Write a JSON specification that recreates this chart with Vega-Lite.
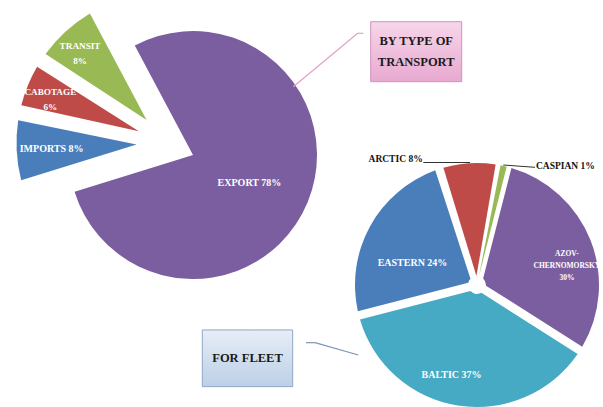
{
  "$schema": "https://vega.github.io/schema/vega-lite/v6.json",
  "width": 603,
  "height": 407,
  "padding": 0,
  "autosize": {"type": "fit", "contains": "padding"},
  "background": "white",
  "config": {"view": {"stroke": null}},
  "datasets": {
    "slices": [
      {"chart": "By type of transport", "category": "Export", "value": 78, "label": "EXPORT 78%"},
      {"chart": "By type of transport", "category": "Imports", "value": 8, "label": "IMPORTS 8%"},
      {"chart": "By type of transport", "category": "Cabotage", "value": 6, "label": "CABOTAGE\n6%"},
      {"chart": "By type of transport", "category": "Transit", "value": 8, "label": "TRANSIT\n8%"},
      {"chart": "For fleet", "category": "Arctic", "value": 8, "label": "ARCTIC 8%"},
      {"chart": "For fleet", "category": "Caspian", "value": 1, "label": "CASPIAN 1%"},
      {"chart": "For fleet", "category": "Azov-Chernomorsky", "value": 30, "label": "AZOV-\nCHERNOMORSKY\n30%"},
      {"chart": "For fleet", "category": "Baltic", "value": 37, "label": "BALTIC 37%"},
      {"chart": "For fleet", "category": "Eastern", "value": 24, "label": "EASTERN 24%"}
    ],
    "boxes": [
      {"chart": "By type of transport", "title": "BY TYPE OF\nTRANSPORT"},
      {"chart": "For fleet", "title": "FOR FLEET"}
    ],
    "links": [
      {"link": "transport", "node": "box"},
      {"link": "transport", "node": "elbow"},
      {"link": "transport", "node": "pie"},
      {"link": "fleet", "node": "box"},
      {"link": "fleet", "node": "elbow"},
      {"link": "fleet", "node": "pie"},
      {"link": "Arctic", "node": "label"},
      {"link": "Arctic", "node": "slice"},
      {"link": "Caspian", "node": "label"},
      {"link": "Caspian", "node": "slice"}
    ]
  },
  "resolve": {"scale": {"x": "independent", "y": "independent", "theta": "independent"}},
  "layer": [
    {
      "data": {"name": "slices"},
      "transform": [{"filter": "datum.category === 'Export'"}],
      "encoding": {
        "x": {"field": "chart", "type": "nominal", "axis": null, "scale": {"type": "point", "domain": ["By type of transport"], "range": [193, 193], "padding": 0}},
        "y": {"field": "chart", "type": "nominal", "axis": null, "scale": {"type": "point", "domain": ["By type of transport"], "range": [155, 155], "padding": 0}},
        "theta": {"field": "value", "type": "quantitative", "stack": true, "scale": {"domain": [0, 100], "range": [-0.4887, 5.7945]}},
        "color": {"field": "category", "type": "nominal", "legend": null,
          "scale": {"domain": ["Export", "Imports", "Cabotage", "Transit", "Arctic", "Caspian", "Azov-Chernomorsky", "Baltic", "Eastern"],
                    "range": ["#7B5E9F", "#4A7EBB", "#BE4B48", "#98B954", "#BE4B48", "#98B954", "#7B5E9F", "#46AAC5", "#4A7EBB"]}}
      },
      "layer": [
        {"mark": {"type": "arc", "outerRadius": 124}},
        {"mark": {"type": "text", "radius": 63, "thetaOffset": 0.07, "font": "Liberation Serif", "fontWeight": "bold", "fontSize": 10},
         "encoding": {"text": {"field": "label"}, "color": {"value": "white"}}}
      ]
    },
    {
      "data": {"name": "slices"},
      "transform": [
        {"filter": "datum.chart === 'By type of transport' && datum.category !== 'Export'"},
        {"window": [{"op": "row_number", "as": "idx"}]}
      ],
      "encoding": {
        "x": {"field": "chart", "type": "nominal", "axis": null, "scale": {"type": "point", "domain": ["By type of transport"], "range": [167.5, 167.5], "padding": 0}},
        "y": {"field": "chart", "type": "nominal", "axis": null, "scale": {"type": "point", "domain": ["By type of transport"], "range": [143, 143], "padding": 0}},
        "theta": {"field": "value", "type": "quantitative", "stack": true, "scale": {"domain": [0, 22], "range": [4.4122, 5.7945]}},
        "order": {"field": "idx", "type": "quantitative"},
        "color": {"field": "category", "type": "nominal", "legend": null}
      },
      "layer": [
        {"mark": {"type": "arc", "innerRadius": 31, "outerRadius": 151, "padAngle": 0.1}},
        {"mark": {"type": "text", "radius": 116, "font": "Liberation Serif", "fontWeight": "bold", "fontSize": 10},
         "encoding": {"text": {"condition": {"test": "datum.category !== 'Imports'", "value": ""}, "field": "label"}, "color": {"value": "white"}}},
        {"mark": {"type": "text", "radius": 125, "thetaOffset": -0.035, "dy": -7.5, "font": "Liberation Serif", "fontWeight": "bold", "fontSize": 9.2, "lineBreak": "\n", "lineHeight": 15},
         "encoding": {"text": {"condition": {"test": "datum.category === 'Imports'", "value": ""}, "field": "label"}, "color": {"value": "white"}}}
      ]
    },
    {
      "data": {"name": "slices"},
      "transform": [
        {"filter": "datum.chart === 'For fleet'"},
        {"window": [{"op": "row_number", "as": "idx"}]}
      ],
      "encoding": {
        "x": {"field": "chart", "type": "nominal", "axis": null, "scale": {"type": "point", "domain": ["For fleet"], "range": [477, 477], "padding": 0}},
        "y": {"field": "chart", "type": "nominal", "axis": null, "scale": {"type": "point", "domain": ["For fleet"], "range": [285, 285], "padding": 0}},
        "theta": {"field": "value", "type": "quantitative", "stack": true, "scale": {"domain": [0, 100], "range": [-0.31416, 5.96903]}},
        "order": {"field": "idx", "type": "quantitative"},
        "color": {"field": "category", "type": "nominal", "legend": null}
      },
      "layer": [
        {"mark": {"type": "arc", "innerRadius": 9, "outerRadius": 122, "padAngle": 0.07},
         "encoding": {"fillOpacity": {"condition": {"test": "datum.category === 'Caspian'", "value": 0}, "value": 1}}},
        {"mark": {"type": "arc", "innerRadius": 9, "outerRadius": 122, "padAngle": 0.012},
         "encoding": {"fillOpacity": {"condition": {"test": "datum.category === 'Caspian'", "value": 1}, "value": 0}}},
        {"mark": {"type": "text", "radius": 68, "thetaOffset": -0.18, "font": "Liberation Serif", "fontWeight": "bold", "fontSize": 10},
         "encoding": {"text": {"condition": {"test": "datum.category !== 'Eastern'", "value": ""}, "field": "label"}, "color": {"value": "white"}}},
        {"mark": {"type": "text", "radius": 92, "thetaOffset": 0.164, "dy": -12, "font": "Liberation Serif", "fontWeight": "bold", "fontSize": 7.5, "lineBreak": "\n", "lineHeight": 12},
         "encoding": {"text": {"condition": {"test": "datum.category !== 'Azov-Chernomorsky'", "value": ""}, "field": "label"}, "color": {"value": "white"}}},
        {"mark": {"type": "text", "radius": 94, "thetaOffset": 0.117, "font": "Liberation Serif", "fontWeight": "bold", "fontSize": 10},
         "encoding": {"text": {"condition": {"test": "datum.category !== 'Baltic'", "value": ""}, "field": "label"}, "color": {"value": "white"}}},
        {"mark": {"type": "text", "radius": 150, "thetaOffset": -0.511, "font": "Liberation Serif", "fontWeight": "bold", "fontSize": 9.5},
         "encoding": {"text": {"condition": {"test": "datum.category !== 'Arctic'", "value": ""}, "field": "label"}, "color": {"value": "#111111"}}},
        {"mark": {"type": "text", "radius": 148.6, "thetaOffset": 0.417, "font": "Liberation Serif", "fontWeight": "bold", "fontSize": 9.5},
         "encoding": {"text": {"condition": {"test": "datum.category !== 'Caspian'", "value": ""}, "field": "label"}, "color": {"value": "#111111"}}}
      ]
    },
    {
      "data": {"name": "boxes"},
      "transform": [{"filter": "datum.chart === 'By type of transport'"}],
      "encoding": {
        "x": {"field": "chart", "type": "nominal", "axis": null, "scale": {"type": "point", "domain": ["By type of transport"], "range": [416.2, 416.2], "padding": 0}},
        "y": {"field": "chart", "type": "nominal", "axis": null, "scale": {"type": "point", "domain": ["By type of transport"], "range": [51.7, 51.7], "padding": 0}}
      },
      "layer": [
        {"mark": {"type": "rect", "width": 91, "height": 60, "stroke": "#CF93BD", "strokeWidth": 1,
          "fill": {"gradient": "linear", "x1": 0, "y1": 0, "x2": 0, "y2": 1, "stops": [{"offset": 0, "color": "#F7D6EA"}, {"offset": 1, "color": "#E8A9D0"}]}}},
        {"mark": {"type": "text", "dy": -10.5, "font": "Liberation Serif", "fontWeight": "bold", "fontSize": 12.5, "lineBreak": "\n", "lineHeight": 21, "color": "#1A1A1A"},
         "encoding": {"text": {"field": "title"}}}
      ]
    },
    {
      "data": {"name": "boxes"},
      "transform": [{"filter": "datum.chart === 'For fleet'"}],
      "encoding": {
        "x": {"field": "chart", "type": "nominal", "axis": null, "scale": {"type": "point", "domain": ["For fleet"], "range": [247.5, 247.5], "padding": 0}},
        "y": {"field": "chart", "type": "nominal", "axis": null, "scale": {"type": "point", "domain": ["For fleet"], "range": [358.3, 358.3], "padding": 0}}
      },
      "layer": [
        {"mark": {"type": "rect", "width": 90.4, "height": 56.7, "stroke": "#8FA7C7", "strokeWidth": 1,
          "fill": {"gradient": "linear", "x1": 0, "y1": 0, "x2": 0, "y2": 1, "stops": [{"offset": 0, "color": "#E6EEF7"}, {"offset": 1, "color": "#BCD0E6"}]}}},
        {"mark": {"type": "text", "font": "Liberation Serif", "fontWeight": "bold", "fontSize": 12.5, "color": "#1A1A1A"},
         "encoding": {"text": {"field": "title"}}}
      ]
    },
    {
      "data": {"name": "links"},
      "transform": [{"filter": "datum.link === 'transport' && datum.node !== 'pie'"}],
      "mark": {"type": "line", "color": "#DFA3CA", "strokeWidth": 1.2},
      "encoding": {
        "x": {"field": "node", "type": "nominal", "axis": null, "scale": {"type": "point", "domain": ["box", "elbow"], "range": [363.3, 357.7], "padding": 0}},
        "y": {"field": "node", "type": "nominal", "axis": null, "scale": {"type": "point", "domain": ["box", "elbow"], "range": [33.3, 33.3], "padding": 0}}
      }
    },
    {
      "data": {"name": "links"},
      "transform": [{"filter": "datum.link === 'transport' && datum.node !== 'box'"}],
      "mark": {"type": "line", "color": "#DFA3CA", "strokeWidth": 1.2},
      "encoding": {
        "x": {"field": "node", "type": "nominal", "axis": null, "scale": {"type": "point", "domain": ["elbow", "pie"], "range": [357.7, 293.3], "padding": 0}},
        "y": {"field": "node", "type": "nominal", "axis": null, "scale": {"type": "point", "domain": ["elbow", "pie"], "range": [33.3, 86.7], "padding": 0}}
      }
    },
    {
      "data": {"name": "links"},
      "transform": [{"filter": "datum.link === 'fleet' && datum.node !== 'pie'"}],
      "mark": {"type": "line", "color": "#7F96B3", "strokeWidth": 1.2},
      "encoding": {
        "x": {"field": "node", "type": "nominal", "axis": null, "scale": {"type": "point", "domain": ["box", "elbow"], "range": [306, 315], "padding": 0}},
        "y": {"field": "node", "type": "nominal", "axis": null, "scale": {"type": "point", "domain": ["box", "elbow"], "range": [342.7, 342.7], "padding": 0}}
      }
    },
    {
      "data": {"name": "links"},
      "transform": [{"filter": "datum.link === 'fleet' && datum.node !== 'box'"}],
      "mark": {"type": "line", "color": "#7F96B3", "strokeWidth": 1.2},
      "encoding": {
        "x": {"field": "node", "type": "nominal", "axis": null, "scale": {"type": "point", "domain": ["elbow", "pie"], "range": [315, 358.3], "padding": 0}},
        "y": {"field": "node", "type": "nominal", "axis": null, "scale": {"type": "point", "domain": ["elbow", "pie"], "range": [342.7, 355], "padding": 0}}
      }
    },
    {
      "data": {"name": "links"},
      "transform": [{"filter": "datum.link === 'Arctic'"}],
      "mark": {"type": "line", "color": "#333333", "strokeWidth": 1},
      "encoding": {
        "x": {"field": "node", "type": "nominal", "axis": null, "scale": {"type": "point", "domain": ["label", "slice"], "range": [423.3, 470], "padding": 0}},
        "y": {"field": "node", "type": "nominal", "axis": null, "scale": {"type": "point", "domain": ["label", "slice"], "range": [162.5, 162.5], "padding": 0}}
      }
    },
    {
      "data": {"name": "links"},
      "transform": [{"filter": "datum.link === 'Caspian'"}],
      "mark": {"type": "line", "color": "#333333", "strokeWidth": 1},
      "encoding": {
        "x": {"field": "node", "type": "nominal", "axis": null, "scale": {"type": "point", "domain": ["label", "slice"], "range": [535, 503.3], "padding": 0}},
        "y": {"field": "node", "type": "nominal", "axis": null, "scale": {"type": "point", "domain": ["label", "slice"], "range": [167.3, 165], "padding": 0}}
      }
    }
  ]
}
